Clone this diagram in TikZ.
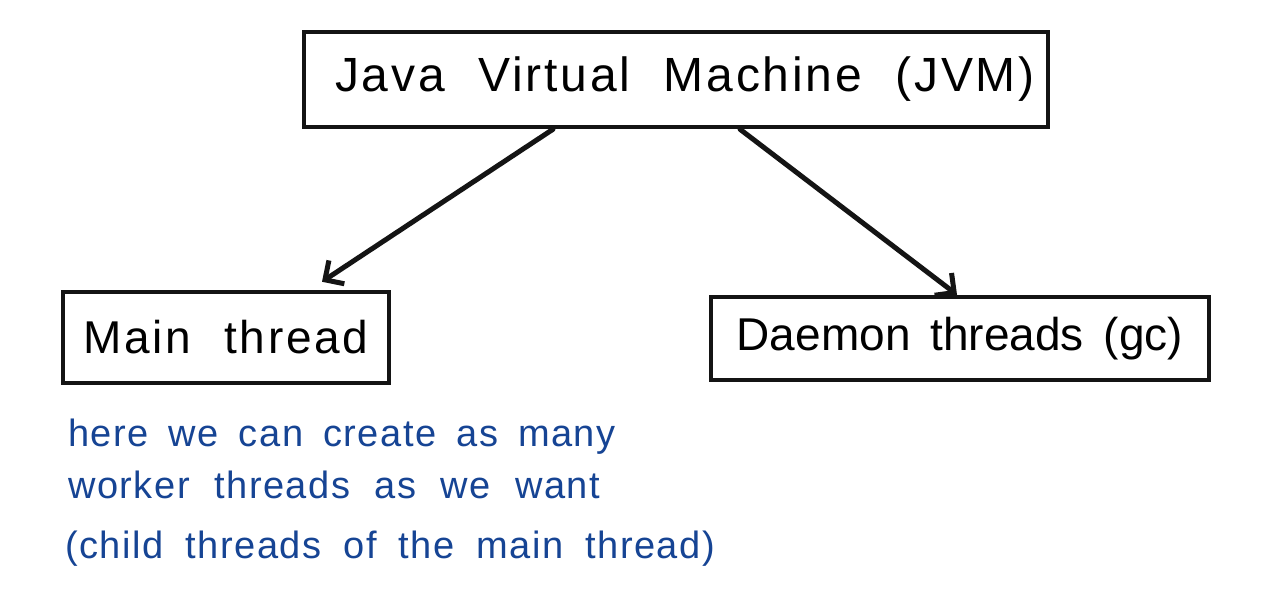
\documentclass[tikz,border=0pt]{standalone}
\usepackage{fontspec}
\setmainfont{Liberation Sans}
\newfontfamily\wideA[LetterSpace=6]{Liberation Sans}
\newfontfamily\wideB[LetterSpace=4]{Liberation Sans}
\usetikzlibrary{arrows.meta}
\definecolor{ink}{RGB}{20,20,20}
\definecolor{pen}{RGB}{22,68,148}
\tikzset{
  box/.style={draw=ink, line width=4.5pt, inner sep=0pt},
  arr/.style={draw=ink, line width=5pt, line cap=round, -{Straight Barb[length=14pt,width=28pt,line width=5pt]}},
  note/.style={anchor=base west, text=pen, inner sep=0pt, font=\wideB\fontsize{38}{40}\selectfont}
}
\begin{document}
\begin{tikzpicture}[x=1pt,y=-1pt]
\useasboundingbox[fill=white] (0,0) rectangle (1280,614);
\node[box, minimum width=744pt, minimum height=95pt, font=\wideA\fontsize{48}{50}\selectfont] (jvm) at (676,79.5) {\hspace*{18pt}\raisebox{-5pt}{\spaceskip=33pt Java Virtual Machine (JVM)}};
\node[box, minimum width=326pt, minimum height=91pt, font=\wideA\fontsize{46}{48}\selectfont] (main) at (226,337.5) {\spaceskip=33pt Main thread};
\node[box, minimum width=498pt, minimum height=83pt, font=\fontsize{46}{48}\selectfont] (daemon) at (960,338.5) {\raisebox{-3pt}{\spaceskip=20pt Daemon threads (gc)}};
\draw[arr] ([xshift=-123pt]jvm.south) -- ([xshift=96pt,yshift=8pt]main.north);
\draw[arr] ([xshift=64pt]jvm.south) -- ([xshift=-3pt]daemon.north);
\node[note] (l1) at (68,446) {\spaceskip=20pt here we can create as many};
\node[note] (l2) at (68,498) {\spaceskip=24.5pt worker threads as we want};
\node[note] (l3) at (65,558) {\spaceskip=22pt (child threads of the main thread)};
\end{tikzpicture}
\end{document}
